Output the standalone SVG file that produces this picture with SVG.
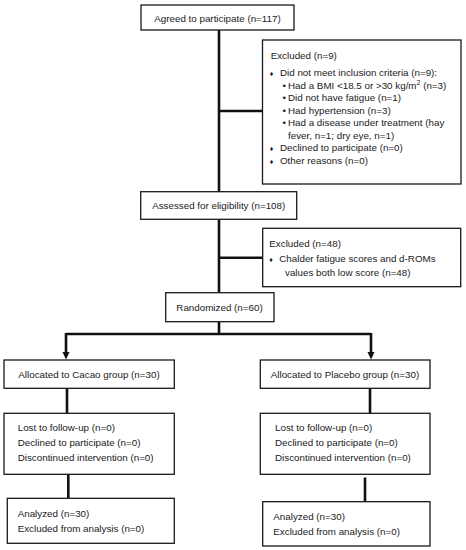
<svg xmlns="http://www.w3.org/2000/svg" width="466" height="550" viewBox="0 0 466 550">
<defs>
<style>
.box{fill:#fff;stroke:#1a1a1a;stroke-width:1.3}
text{font-family:"Liberation Sans",Arial,sans-serif;font-size:9.8px;fill:#1a1a1a}
.c{text-anchor:middle}
.conn{stroke:#111;stroke-width:2.6;fill:none}
.b{font-size:7px}
</style>
<marker id="ah" viewBox="0 0 8 8" refX="4" refY="8" markerWidth="8" markerHeight="8" markerUnits="userSpaceOnUse" orient="auto-start-reverse">
<path d="M0,1 L8,1 L4,8 Z" fill="#111"/>
</marker>
</defs>
<rect width="466" height="550" fill="#fff"/>
<g id="connectors">
<path class="conn" d="M219,30 V191.7"/>
<path class="conn" d="M219,111 H262.5"/>
<path class="conn" d="M219,219.3 V292.7"/>
<path class="conn" d="M219,257.7 H262.7"/>
<path class="conn" d="M219,321.7 V334 M66,334 H371"/>
<path class="conn" d="M66,333 V352"/>
<path d="M62.5,352 L69.5,352 L66,359.5 Z" fill="#111"/>
<path class="conn" d="M371,333 V352"/>
<path d="M367.5,352 L374.5,352 L371,359.5 Z" fill="#111"/>
<path class="conn" d="M67,388.3 V413.3"/>
<path class="conn" d="M370,388.3 V413.3"/>
<path class="conn" d="M68.3,474.3 V498.3"/>
<path class="conn" d="M365,477.5 V501.7"/>
</g>
<g id="agreed">
<rect class="box" x="141" y="5" width="153" height="25"/>
<text class="c" x="217.5" y="21.5">Agreed to participate (n=117)</text>
</g>
<g id="excluded1">
<rect class="box" x="262.5" y="40" width="198.5" height="144"/>
<text x="270.7" y="58.5">Excluded (n=9)</text>
<text x="269.7" y="75.8"><tspan class="b">♦</tspan><tspan x="280">Did not meet inclusion criteria (n=9):</tspan></text>
<text x="282.5" y="88.5">•<tspan x="288">Had a BMI &lt;18.5 or &gt;30 kg/m</tspan><tspan font-size="7" dy="-3.5">2</tspan><tspan dy="3.5"> (n=3)</tspan></text>
<text x="282.5" y="101.2">•<tspan x="288">Did not have fatigue (n=1)</tspan></text>
<text x="282.5" y="113.7">•<tspan x="288">Had hypertension (n=3)</tspan></text>
<text x="282.5" y="126.2">•<tspan x="288">Had a disease under treatment (hay</tspan></text>
<text x="288" y="138.7">fever, n=1; dry eye, n=1)</text>
<text x="269.7" y="151.2"><tspan class="b">♦</tspan><tspan x="280">Declined to participate (n=0)</tspan></text>
<text x="269.7" y="163.7"><tspan class="b">♦</tspan><tspan x="280">Other reasons (n=0)</tspan></text>
</g>
<g id="assessed">
<rect class="box" x="140.7" y="191.7" width="156" height="27.6"/>
<text class="c" x="218.7" y="209.3">Assessed for eligibility (n=108)</text>
</g>
<g id="excluded2">
<rect class="box" x="262.7" y="228.3" width="198" height="58.4"/>
<text x="269.3" y="246.8">Excluded (n=48)</text>
<text x="269.3" y="261.8"><tspan class="b">♦</tspan><tspan x="279.3">Chalder fatigue scores and d-ROMs</tspan></text>
<text x="285" y="276">values both low score (n=48)</text>
</g>
<g id="randomized">
<rect class="box" x="165.7" y="292.7" width="108.3" height="29"/>
<text class="c" x="219.5" y="310.7">Randomized (n=60)</text>
</g>
<g id="alloc-cacao">
<rect class="box" x="4" y="360" width="170.3" height="28.3"/>
<text class="c" x="89" y="377.5">Allocated to Cacao group (n=30)</text>
</g>
<g id="alloc-placebo">
<rect class="box" x="260.3" y="360" width="169.7" height="28.3"/>
<text class="c" x="345" y="377.5">Allocated to Placebo group (n=30)</text>
</g>
<g id="followup-cacao">
<rect class="box" x="4" y="413.3" width="170.3" height="61"/>
<text x="17.7" y="431.2">Lost to follow-up (n=0)</text>
<text x="17.7" y="446.2">Declined to participate (n=0)</text>
<text x="17.7" y="461.2">Discontinued intervention (n=0)</text>
</g>
<g id="followup-placebo">
<rect class="box" x="260.3" y="413.3" width="169.7" height="61"/>
<text x="275" y="431.2">Lost to follow-up (n=0)</text>
<text x="275" y="446.2">Declined to participate (n=0)</text>
<text x="275" y="461.2">Discontinued intervention (n=0)</text>
</g>
<g id="analyzed-cacao">
<rect class="box" x="7.3" y="498.3" width="167" height="45"/>
<text x="17.7" y="516.8">Analyzed (n=30)</text>
<text x="17.7" y="531.8">Excluded from analysis (n=0)</text>
</g>
<g id="analyzed-placebo">
<rect class="box" x="262.7" y="501.7" width="167.3" height="44.3"/>
<text x="273.3" y="520.2">Analyzed (n=30)</text>
<text x="273.3" y="534.5">Excluded from analysis (n=0)</text>
</g>
</svg>
